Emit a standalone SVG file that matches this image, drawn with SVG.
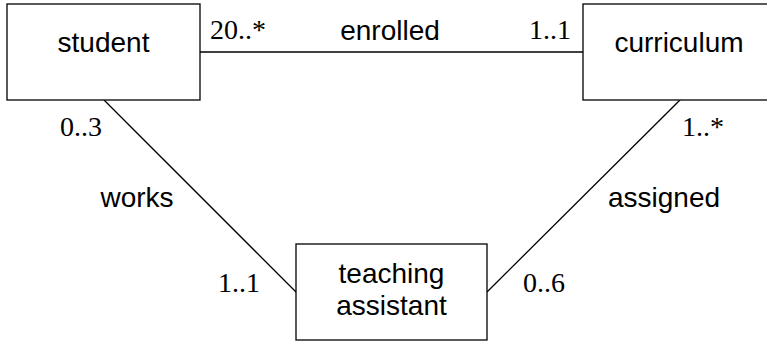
<svg xmlns="http://www.w3.org/2000/svg" width="767" height="341" viewBox="0 0 767 341">
<style>
.box{fill:#fff;stroke:#000;stroke-width:1.3}
.lbl{font-family:"Liberation Sans",Arial,sans-serif;font-size:28px;fill:#000;text-anchor:middle}
.mul{font-family:"Liberation Serif","Times New Roman",serif;font-size:28px;fill:#000}
.edge{stroke:#000;stroke-width:1.3;fill:none}
</style>
<rect width="767" height="341" fill="#fff"/>
<g id="connectors">
<line class="edge" x1="200" y1="52" x2="583" y2="52"/>
<line class="edge" x1="104" y1="100" x2="296" y2="292"/>
<line class="edge" x1="680" y1="100" x2="487" y2="292"/>
<text class="lbl" x="390" y="40">enrolled</text>
<text class="lbl" x="137" y="207">works</text>
<text class="lbl" x="664" y="207">assigned</text>
<text class="mul" x="210" y="39">20..*</text>
<text class="mul" x="529" y="39">1..1</text>
<text class="mul" x="60" y="136">0..3</text>
<text class="mul" x="682" y="136">1..*</text>
<text class="mul" x="218" y="292">1..1</text>
<text class="mul" x="523" y="292">0..6</text>
</g>
<g id="student">
<rect class="box" x="7" y="4" width="193" height="96"/>
<text class="lbl" x="103.5" y="52">student</text>
</g>
<g id="curriculum">
<rect class="box" x="583" y="4" width="192" height="96"/>
<text class="lbl" x="679" y="52">curriculum</text>
</g>
<g id="teaching-assistant">
<rect class="box" x="296" y="244" width="191" height="96"/>
<text class="lbl" x="391.5" y="283">teaching</text>
<text class="lbl" x="391.5" y="315">assistant</text>
</g>
</svg>
